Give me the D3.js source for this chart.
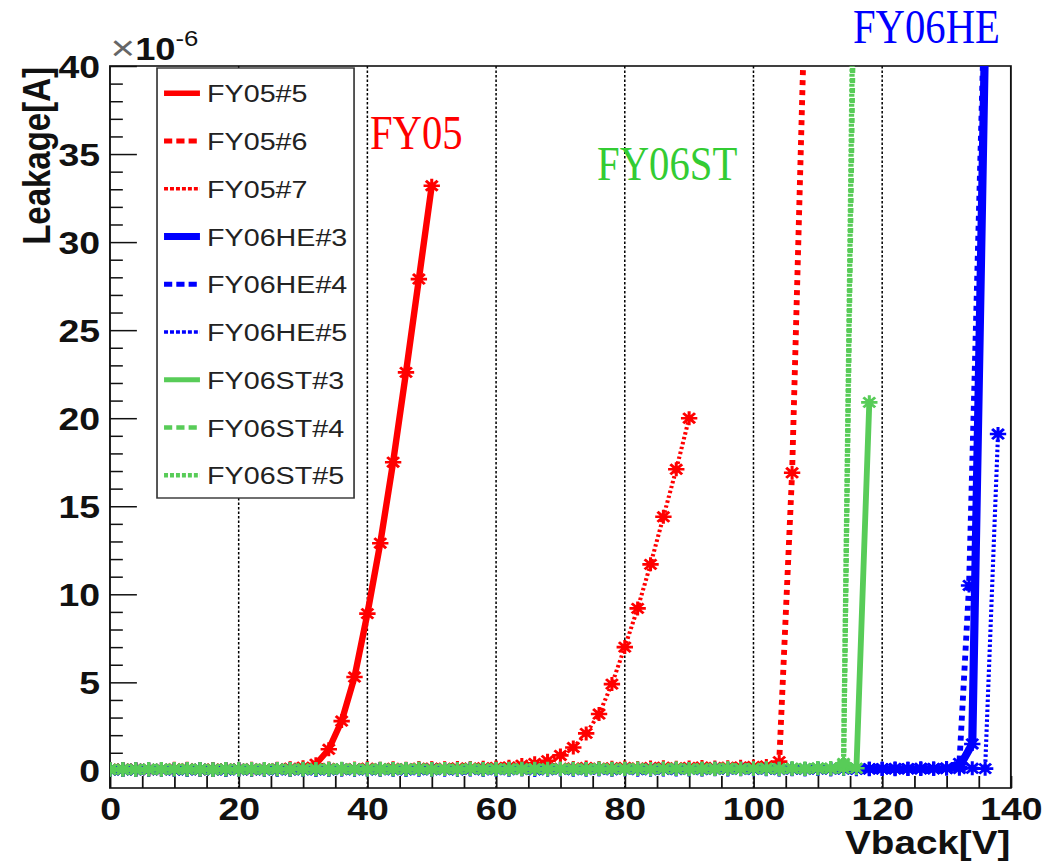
<!DOCTYPE html>
<html>
<head>
<meta charset="utf-8">
<script src="https://cdn.jsdelivr.net/npm/d3@7"></script>
<style>
  html, body { margin: 0; padding: 0; background: #fff; }
  svg { display: block; }
</style>
</head>
<body>
<svg id="chart" width="1064" height="861"></svg>
<script>
// ---- Leakage current (x10^-6 A) versus back-bias voltage (V) ----

// Voltage scan points shared by all sensors (V)
const vScan = [
  0, 2, 4, 6, 8, 10, 12, 14, 16, 18, 20, 22, 24, 26, 28, 30, 32, 34, 36, 38,
  40, 42, 44, 46, 48, 50, 52, 54, 56, 58, 60, 62, 64, 66, 68, 70, 72, 74, 76, 78,
  80, 82, 84, 86, 88, 90, 92, 94, 96, 98, 100, 102, 104, 106, 108, 110, 112, 114, 116, 118,
  120, 122, 124, 126, 128, 130, 132, 134, 136, 138
];
// FY06HE#4 was scanned with a finer step near breakdown
const vFY06HE_4 = [
  0, 2, 4, 6, 8, 10, 12, 14, 16, 18, 20, 22, 24, 26, 28, 30, 32, 34, 36, 38,
  40, 42, 44, 46, 48, 50, 52, 54, 56, 58, 60, 62, 64, 66, 68, 70, 72, 74, 76, 78,
  80, 82, 84, 86, 88, 90, 92, 94, 96, 98, 100, 102, 104, 106, 108, 110, 112, 114, 116, 118,
  120, 122, 124, 126, 128, 130, 132, 133.5, 136
];

// Leakage current for each sensor (x10^-6 A), one value per voltage point
const iFY05_5 = [
  0.04, 0.06, 0.03, 0.05, 0.07, 0.04, 0.06, 0.05, 0.03, 0.06,
  0.08, 0.05, 0.07, 0.09, 0.12, 0.18, 0.35, 1.2, 2.8, 5.3,
  8.9, 12.9, 17.5, 22.6, 27.9, 33.2
];
const iFY05_6 = [
  0.05, 0.08, 0.06, 0.04, 0.07, 0.09, 0.06, 0.05, 0.08, 0.07,
  0.06, 0.04, 0.07, 0.08, 0.05, 0.09, 0.07, 0.06, 0.08, 0.10,
  0.09, 0.07, 0.11, 0.08, 0.10, 0.12, 0.09, 0.11, 0.13, 0.10,
  0.12, 0.14, 0.11, 0.13, 0.15, 0.12, 0.14, 0.16, 0.13, 0.15,
  0.17, 0.14, 0.16, 0.18, 0.15, 0.17, 0.19, 0.16, 0.18, 0.20,
  0.22, 0.25, 0.5, 16.9, 44.0
];
const iFY05_7 = [
  0.06, 0.05, 0.08, 0.07, 0.04, 0.06, 0.09, 0.07, 0.05, 0.08,
  0.06, 0.09, 0.07, 0.08, 0.10, 0.07, 0.09, 0.11, 0.08, 0.10,
  0.12, 0.09, 0.11, 0.10, 0.13, 0.11, 0.12, 0.14, 0.12, 0.15,
  0.17, 0.2, 0.3, 0.4, 0.55, 0.85, 1.3, 2.1, 3.2, 4.9,
  7.0, 9.2, 11.7, 14.4, 17.1, 20.0
];
const iFY06HE_3 = [
  0.03, 0.05, 0.02, 0.04, 0.06, 0.03, 0.05, 0.04, 0.02, 0.05,
  0.04, 0.06, 0.03, 0.05, 0.04, 0.07, 0.05, 0.03, 0.06, 0.04,
  0.05, 0.07, 0.04, 0.06, 0.05, 0.03, 0.06, 0.05, 0.07, 0.04,
  0.06, 0.05, 0.08, 0.06, 0.04, 0.07, 0.05, 0.06, 0.08, 0.05,
  0.07, 0.06, 0.04, 0.07, 0.08, 0.06, 0.05, 0.08, 0.07, 0.06,
  0.09, 0.07, 0.05, 0.08, 0.06, 0.09, 0.07, 0.08, 0.06, 0.09,
  0.08, 0.07, 0.10, 0.08, 0.09, 0.11, 0.2, 1.5, 42.0
];
const iFY06HE_4 = [
  0.04, 0.03, 0.06, 0.05, 0.03, 0.05, 0.04, 0.06, 0.03, 0.04,
  0.06, 0.04, 0.05, 0.03, 0.06, 0.05, 0.04, 0.06, 0.05, 0.07,
  0.04, 0.05, 0.06, 0.04, 0.07, 0.05, 0.06, 0.04, 0.06, 0.07,
  0.05, 0.07, 0.06, 0.05, 0.08, 0.06, 0.07, 0.05, 0.07, 0.06,
  0.08, 0.05, 0.07, 0.06, 0.08, 0.07, 0.06, 0.09, 0.07, 0.08,
  0.06, 0.08, 0.09, 0.07, 0.08, 0.10, 0.07, 0.09, 0.08, 0.10,
  0.09, 0.11, 0.10, 0.12, 0.11, 0.14, 0.4, 10.5, 45.0
];
const iFY06HE_5 = [
  0.02, 0.04, 0.03, 0.05, 0.04, 0.02, 0.04, 0.05, 0.03, 0.04,
  0.05, 0.03, 0.04, 0.06, 0.04, 0.03, 0.05, 0.04, 0.06, 0.05,
  0.03, 0.05, 0.06, 0.04, 0.05, 0.07, 0.05, 0.04, 0.06, 0.05,
  0.07, 0.05, 0.06, 0.04, 0.06, 0.07, 0.05, 0.07, 0.06, 0.05,
  0.07, 0.06, 0.08, 0.06, 0.05, 0.07, 0.08, 0.06, 0.07, 0.09,
  0.06, 0.08, 0.07, 0.09, 0.07, 0.08, 0.10, 0.08, 0.09, 0.07,
  0.09, 0.10, 0.08, 0.10, 0.09, 0.11, 0.10, 0.12, 0.10, 19.1
];
const iFY06ST_3 = [
  0.05, 0.07, 0.04, 0.06, 0.08, 0.05, 0.07, 0.06, 0.04, 0.07,
  0.06, 0.08, 0.05, 0.07, 0.06, 0.09, 0.07, 0.05, 0.08, 0.06,
  0.07, 0.09, 0.06, 0.08, 0.07, 0.05, 0.08, 0.07, 0.09, 0.06,
  0.08, 0.07, 0.10, 0.08, 0.06, 0.09, 0.07, 0.08, 0.10, 0.07,
  0.09, 0.08, 0.06, 0.09, 0.10, 0.08, 0.07, 0.10, 0.09, 0.08,
  0.11, 0.09, 0.07, 0.10, 0.08, 0.11, 0.09, 0.10, 0.12, 20.9
];
const iFY06ST_4 = [
  0.06, 0.04, 0.07, 0.05, 0.06, 0.08, 0.05, 0.07, 0.04, 0.06,
  0.07, 0.05, 0.08, 0.06, 0.07, 0.05, 0.08, 0.06, 0.09, 0.07,
  0.05, 0.08, 0.07, 0.06, 0.09, 0.07, 0.08, 0.06, 0.09, 0.08,
  0.07, 0.09, 0.06, 0.08, 0.10, 0.07, 0.09, 0.08, 0.10, 0.07,
  0.09, 0.11, 0.08, 0.10, 0.09, 0.07, 0.10, 0.08, 0.11, 0.09,
  0.10, 0.12, 0.09, 0.11, 0.10, 0.13, 0.12, 0.3, 56.0
];
const iFY06ST_5 = [
  0.04, 0.06, 0.05, 0.07, 0.04, 0.06, 0.08, 0.05, 0.07, 0.06,
  0.05, 0.07, 0.06, 0.08, 0.05, 0.07, 0.06, 0.09, 0.06, 0.08,
  0.07, 0.05, 0.08, 0.07, 0.09, 0.06, 0.08, 0.07, 0.10, 0.07,
  0.09, 0.06, 0.08, 0.10, 0.07, 0.09, 0.08, 0.06, 0.09, 0.10,
  0.08, 0.10, 0.07, 0.09, 0.11, 0.08, 0.10, 0.09, 0.12, 0.10,
  0.09, 0.11, 0.10, 0.12, 0.11, 0.14, 0.13, 0.4, 60.0
];

// Sensor names (legend order = drawing order)
const sensorNames = ["FY05#5", "FY05#6", "FY05#7", "FY06HE#3", "FY06HE#4", "FY06HE#5", "FY06ST#3", "FY06ST#4", "FY06ST#5"];
const sensorVolts = [vScan, vScan, vScan, vScan, vFY06HE_4, vScan, vScan, vScan, vScan];
const sensorCurrents = [iFY05_5, iFY05_6, iFY05_7, iFY06HE_3, iFY06HE_4, iFY06HE_5, iFY06ST_3, iFY06ST_4, iFY06ST_5];

// Group annotations
const groupLabels = ["FY05", "FY06ST", "FY06HE"];

// Axis ticks
const xMajorTicks = [0, 20, 40, 60, 80, 100, 120, 140];
const xMinorTicks = [5, 10, 15, 25, 30, 35, 45, 50, 55, 65, 70, 75, 85, 90, 95, 105, 110, 115, 125, 130, 135];
const xGrid = [20, 40, 60, 80, 100, 120];
const yMajorTicks = [0, 5, 10, 15, 20, 25, 30, 35, 40];
const yMinorTicks = [1, 2, 3, 4, 6, 7, 8, 9, 11, 12, 13, 14, 16, 17, 18, 19, 21, 22, 23, 24, 26, 27, 28, 29, 31, 32, 33, 34, 36, 37, 38, 39];

// ---- styling ----
const RED = "#ff0000", BLUE = "#0000ff", GREEN = "#58cc58";
const styles = [
  { color: RED,   width: 5.5, dash: null,      legendDash: null },
  { color: RED,   width: 5,   dash: "5,5",     legendDash: "7,3.5" },
  { color: RED,   width: 3.5, dash: "2.5,2.5", legendDash: "3.4,1.7" },
  { color: BLUE,  width: 7,   dash: null,      legendDash: null },
  { color: BLUE,  width: 5,   dash: "5,5",     legendDash: "7,3.5" },
  { color: BLUE,  width: 3.5, dash: "2.5,2.5", legendDash: "3.4,1.7" },
  { color: GREEN, width: 5,   dash: null,      legendDash: null },
  { color: GREEN, width: 4.5, dash: "5,5",     legendDash: "7,3.5" },
  { color: GREEN, width: 4.5, dash: "3,2",     legendDash: "3.4,1.7" }
];

const SANS = "'Liberation Sans', Arial, Helvetica, sans-serif";
const SERIF = "'Liberation Serif', 'Times New Roman', serif";

// The whole drawing uses a slightly wide aspect: stretch horizontally
const SX = 1.17;
const frame = { left: 94, right: 864, top: 66, bottom: 788 };

const x = d3.scaleLinear().domain([0, 140]).range([frame.left, frame.right]);
const y = d3.scaleLinear().domain([-1, 40]).range([frame.bottom, frame.top]);

const svg = d3.select("#chart");
const root = svg.append("g").attr("transform", `scale(${SX},1)`);

root.append("defs").append("clipPath").attr("id", "frameClip")
  .append("rect")
  .attr("x", frame.left).attr("y", frame.top)
  .attr("width", frame.right - frame.left)
  .attr("height", frame.bottom - frame.top);

// vertical dotted grid
root.append("g").selectAll("line").data(xGrid).join("line")
  .attr("x1", d => x(d)).attr("x2", d => x(d))
  .attr("y1", frame.top).attr("y2", frame.bottom)
  .attr("stroke", "#000").attr("stroke-width", 1.3)
  .attr("stroke-dasharray", "2.5,2");

// x axis (ticks pointing into the frame)
const xAxisMajor = d3.axisBottom(x).tickValues(xMajorTicks).tickSize(-12).tickPadding(9).tickFormat(d3.format("d"));
const xAxisMinor = d3.axisBottom(x).tickValues(xMinorTicks).tickSize(-12).tickFormat("");
const gxMinor = root.append("g").attr("transform", `translate(0,${frame.bottom})`).call(xAxisMinor);
const gx = root.append("g").attr("transform", `translate(0,${frame.bottom})`).call(xAxisMajor);

// y axis (major and minor ticks pointing into the frame)
const yAxisMajor = d3.axisLeft(y).tickValues(yMajorTicks).tickSize(-23).tickPadding(8.5).tickFormat(d3.format("d"));
const yAxisMinor = d3.axisLeft(y).tickValues(yMinorTicks).tickSize(-11).tickFormat("");
const gyMinor = root.append("g").attr("transform", `translate(${frame.left},0)`).call(yAxisMinor);
const gy = root.append("g").attr("transform", `translate(${frame.left},0)`).call(yAxisMajor);

[gx, gxMinor, gy, gyMinor].forEach(a => {
  a.select(".domain").remove();
  a.selectAll(".tick line").attr("stroke", "#111").attr("stroke-width", 1.5);
  a.selectAll("text")
    .attr("font-family", SANS).attr("font-weight", "bold")
    .attr("font-size", 32).attr("fill", "#111");
});
gy.selectAll("text").attr("dy", "0.36em");

// frame
root.append("rect")
  .attr("x", frame.left).attr("y", frame.top)
  .attr("width", frame.right - frame.left).attr("height", frame.bottom - frame.top)
  .attr("fill", "none").attr("stroke", "#111").attr("stroke-width", 1.6);

// curves with asterisk markers
const plotArea = root.append("g").attr("clip-path", "url(#frameClip)");
const line = d3.line().x(d => x(d[0])).y(d => y(d[1]));

function starPath(r) {
  const k = r * 0.72;
  return `M${-r},0H${r}M0,${-r}V${r}M${-k},${-k}L${k},${k}M${-k},${k}L${k},${-k}`;
}

sensorNames.forEach((name, s) => {
  const pts = sensorCurrents[s].map((c, j) => [sensorVolts[s][j], c]);
  const st = styles[s];
  const grp = plotArea.append("g");
  grp.append("path")
    .datum(pts)
    .attr("d", line)
    .attr("fill", "none")
    .attr("stroke", st.color)
    .attr("stroke-width", st.width)
    .attr("stroke-dasharray", st.dash)
    .attr("stroke-linejoin", "round");
  grp.selectAll("path.marker").data(pts).join("path")
    .attr("class", "marker")
    .attr("transform", d => `translate(${x(d[0])},${y(d[1])})`)
    .attr("d", starPath(7))
    .attr("fill", "none")
    .attr("stroke", st.color)
    .attr("stroke-width", 2.6);
});

// legend
const legend = root.append("g");
legend.append("rect")
  .attr("x", 134.2).attr("y", 68).attr("width", 168.4).attr("height", 430)
  .attr("fill", "#fff").attr("stroke", "#333").attr("stroke-width", 1.4);
sensorNames.forEach((name, s) => {
  const cy = 93.3 + s * 47.75;
  const st = styles[s];
  legend.append("line")
    .attr("x1", 140.2).attr("x2", 170.9).attr("y1", cy).attr("y2", cy)
    .attr("stroke", st.color).attr("stroke-width", st.width)
    .attr("stroke-dasharray", st.legendDash);
  legend.append("text")
    .attr("x", 177).attr("y", cy + 9)
    .attr("font-family", SANS).attr("font-size", 24.5).attr("fill", "#222")
    .text(name);
});

// axis titles
root.append("text")
  .attr("transform", `translate(863.5,854)`)
  .attr("text-anchor", "end")
  .attr("font-family", SANS).attr("font-weight", "bold").attr("font-size", 33).attr("fill", "#111")
  .text("Vback[V]");
root.append("text")
  .attr("transform", `translate(42.7,67) rotate(-90)`)
  .attr("text-anchor", "end")
  .attr("font-family", SANS).attr("font-weight", "bold").attr("font-size", 33).attr("fill", "#111")
  .text("Leakage[A]");

// exponent of the current axis
const expo = root.append("text")
  .attr("x", 94.5).attr("y", 60)
  .attr("font-family", SANS).attr("fill", "#111");
expo.append("tspan").attr("font-size", 36).attr("fill", "#666").text("×");
expo.append("tspan").attr("font-size", 31).attr("font-weight", "bold").text("10");
expo.append("tspan").attr("font-size", 22).attr("dy", -14).text("-6");

// group annotations
const groupPos = [[316.2, 149, RED], [510.3, 180, "#33cc33"], [729, 43, BLUE]];
groupLabels.forEach((t, k) => {
  root.append("text")
    .attr("transform", `translate(${groupPos[k][0]},${groupPos[k][1]}) scale(0.71,1)`)
    .attr("font-family", SERIF).attr("font-size", 49).attr("fill", groupPos[k][2])
    .text(t);
});
</script>
</body>
</html>
